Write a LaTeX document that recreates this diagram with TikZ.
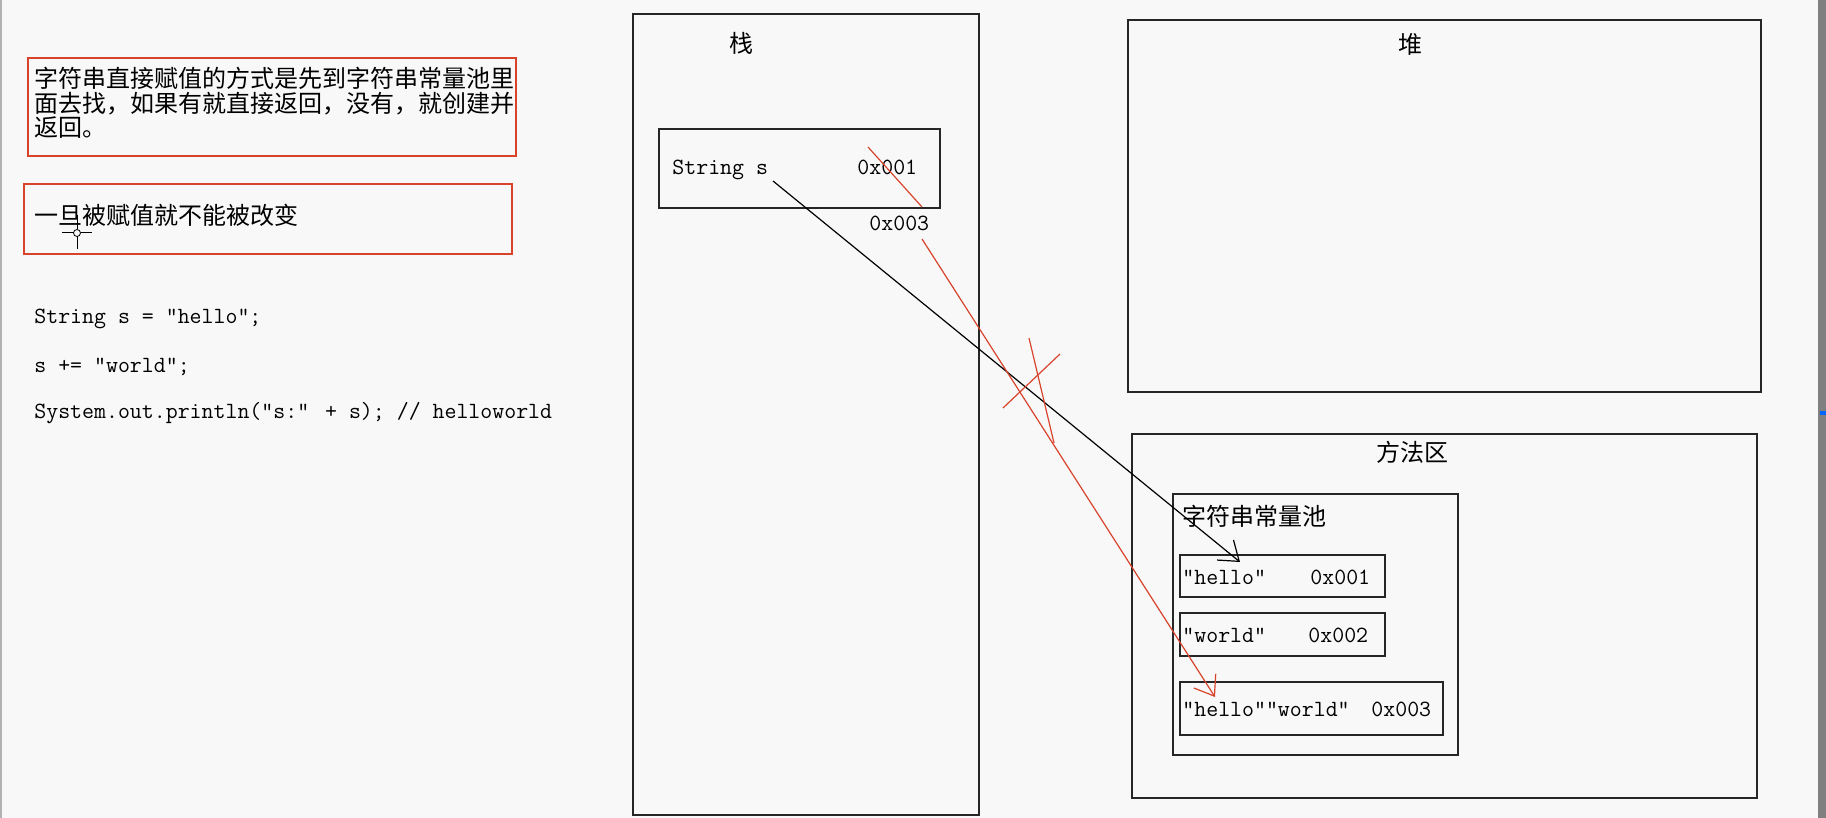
\documentclass[tikz,border=0pt]{standalone}
\usepackage{fontspec}
\newfontfamily\cjk{Noto Sans CJK SC}
\usetikzlibrary{arrows.meta}

\definecolor{bgcol}{HTML}{F8F8F8}
\definecolor{redline}{HTML}{D8432C}
\tikzset{
  box/.style={draw=black!85, line width=0.7pt},
  notebox/.style={draw=redline, line width=0.7pt},
  cn/.style={font=\cjk\fontsize{12}{12}\selectfont, inner sep=0pt, text height=10.5pt, text depth=1.5pt},
  code/.style={font=\ttfamily\fontsize{11.6}{12}\selectfont, inner sep=0pt, text height=8.6pt, text depth=2pt, anchor=west},
}

\begin{document}
\begin{tikzpicture}[x=0.5pt, y=-0.5pt]
\fill[bgcol] (0,0) rectangle (1826,818);
\useasboundingbox (0,0) rectangle (1826,818);
\fill[gray!60] (0,0) rectangle (2,818);
\fill[gray] (1818,0) rectangle (1826,818);
\fill[blue!60!cyan] (1820,411) rectangle (1826,415);

% notes and code
\draw[notebox] (28,58) rectangle (516,156);
\node[cn, anchor=west] (note1a) at (34,79) {字符串直接赋值的方式是先到字符串常量池里};
\node[cn, anchor=west] (note1b) at (34,103.5) {面去找，如果有就直接返回，没有，就创建并};
\node[cn, anchor=west] (note1c) at (34,128) {返回。};

\draw[notebox] (24,184) rectangle (512,254);
\node[cn, anchor=west] (note2) at (34,216) {一旦被赋值就不能被改变};
\draw[line width=0.5pt] (62,233) -- (73.5,233) (80.5,233) -- (92,233)
  (77,215) -- (77,229.5) (77,236.5) -- (77,249);
\draw[line width=0.4pt] (77,233) circle (3.5);

\node[code] (line1) at (34,317) {String s = ”hello”;};
\node[code] (line2) at (34,366) {s += ”world”;};
\node[code] (line3) at (34,412) {System.out.println(”s:” + s); // helloworld};

% stack
\draw[box] (633,14) rectangle (979,815);
\node[cn] (stack) at (741,44) {栈};
\draw[box] (659,129) rectangle (940,208);
\node[code] (strs) at (672,168) {String s};
\node[code] (addr1) at (857,168) {0x001};
\node[code] (addr3) at (869,224) {0x003};

% heap
\draw[box] (1128,20) rectangle (1761,392);
\node[cn] (heap) at (1410,45) {堆};

% method area
\draw[box] (1132,434) rectangle (1757,798);
\node[cn] (method) at (1412,452) {方法区};
\draw[box] (1173,494) rectangle (1458,755);
\node[cn, anchor=west] (pool) at (1182,516) {字符串常量池};

\draw[box] (1180,555) rectangle (1385,597);
\node[code] (hello) at (1182,578) {”hello”};
\node[code] (haddr) at (1310,578) {0x001};
\draw[box] (1180,613) rectangle (1385,656);
\node[code] (world) at (1182,636) {”world”};
\node[code] (waddr) at (1308,636) {0x002};
\draw[box] (1180,682) rectangle (1443,735);
\node[code] (hw) at (1182,710) {”hello””world”};
\node[code] (hwaddr) at (1371,710) {0x003};

% references
\coordinate (refold) at (773,181);
\coordinate (hellotop) at (1240,562);
\draw[line width=0.6pt, -{Straight Barb[length=9pt,width=13pt]}] (refold) -- (hellotop);

\coordinate (refnew) at (922,239);
\coordinate (hwtip) at (1215,697);
\draw[redline, line width=0.6pt, -{Straight Barb[length=9pt,width=13pt]}] (refnew) -- (hwtip);

\draw[redline, line width=0.6pt] (868,147) -- (922,207);
\draw[redline, line width=0.6pt] (1029,338) -- (1054,443);
\draw[redline, line width=0.6pt] (1060,354) -- (1003,408);
\end{tikzpicture}
\end{document}
